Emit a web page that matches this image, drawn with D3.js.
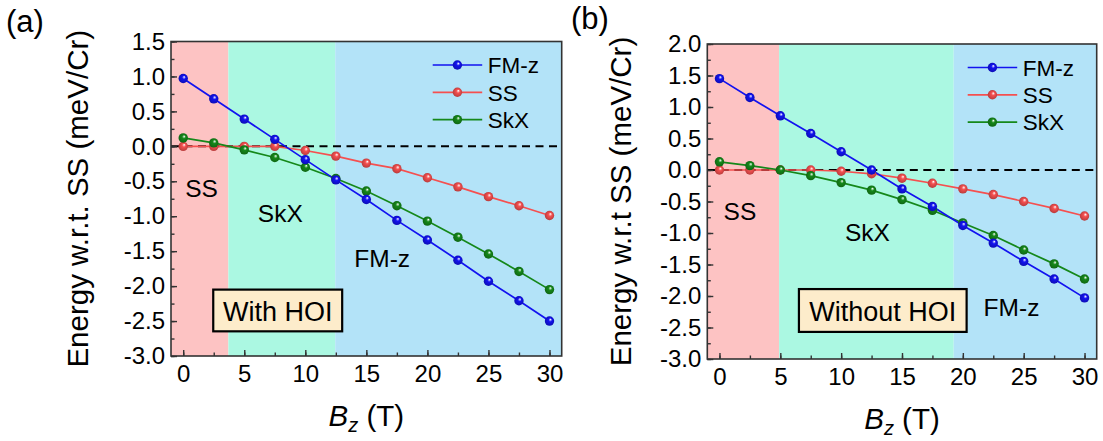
<!DOCTYPE html>
<html>
<head>
<meta charset="utf-8">
<title>Energy w.r.t. SS vs Bz</title>
<script src="https://cdn.jsdelivr.net/npm/d3@7"></script>
<style>
  body { margin: 0; background: #fff; }
  text { font-family: Arial, "Liberation Sans", sans-serif; fill: #000; }
</style>
</head>
<body>
<svg id="chart" width="1103" height="441"></svg>
<script>
// field values (T)
var bz = [0, 2.5, 5, 7.5, 10, 12.5, 15, 17.5, 20, 22.5, 25, 27.5, 30];
var seriesNames = ["FM-z", "SS", "SkX"];
var xTicks = [0, 5, 10, 15, 20, 25, 30];

// (a) with HOI
var fmzA = [0.97, 0.68, 0.39, 0.10, -0.19, -0.48, -0.76, -1.06, -1.34, -1.63, -1.93, -2.21, -2.50];
var ssA  = [0, 0, 0, 0, -0.06, -0.14, -0.24, -0.32, -0.45, -0.58, -0.72, -0.85, -0.99];
var skxA = [0.12, 0.05, -0.05, -0.16, -0.30, -0.46, -0.64, -0.85, -1.07, -1.30, -1.54, -1.79, -2.05];
var yTicksA = [-3.0, -2.5, -2.0, -1.5, -1.0, -0.5, 0.0, 0.5, 1.0, 1.5];
var phaseEdgesA = [3.7, 12.45];

// (b) without HOI
var fmzB = [1.45, 1.15, 0.86, 0.58, 0.29, 0.0, -0.30, -0.58, -0.88, -1.16, -1.45, -1.73, -2.03];
var ssB  = [0, 0, 0, 0, -0.02, -0.06, -0.13, -0.21, -0.30, -0.39, -0.50, -0.61, -0.73];
var skxB = [0.13, 0.07, 0, -0.09, -0.20, -0.32, -0.47, -0.64, -0.84, -1.04, -1.27, -1.49, -1.73];
var yTicksB = [-3.0, -2.5, -2.0, -1.5, -1.0, -0.5, 0.0, 0.5, 1.0, 1.5, 2.0];
var phaseEdgesB = [4.9, 19.25];

var phaseNames = ["SS", "SkX", "FM-z"];

// styling
var lineColors = ["#1212f0", "#f55050", "#15881a"];
var phaseFill = ["#fdc3c3", "#abf8e2", "#b3e3f8"];
var fmt = function(v) { return d3.format(".1f")(v).replace("\u2212", "-"); };

var svg = d3.select("#chart");
var defs = svg.append("defs");

lineColors.forEach(function(c, i) {
  var g = defs.append("radialGradient")
    .attr("id", "ball" + i)
    .attr("cx", "50%").attr("cy", "50%").attr("r", "55%")
    .attr("fx", "62%").attr("fy", "32%");
  g.append("stop").attr("offset", "0%").attr("stop-color", "#ffffff");
  g.append("stop").attr("offset", "35%").attr("stop-color", c);
  g.append("stop").attr("offset", "100%").attr("stop-color", d3.color(c).darker(0.9));
});

function drawPanel(cfg) {
  var x = d3.scaleLinear().domain([-1, 31]).range([cfg.left, cfg.right]);
  var y = d3.scaleLinear().domain(cfg.yDomain).range([cfg.bottom, cfg.top]);
  var g = svg.append("g");

  // phase backgrounds
  var edges = [-1].concat(cfg.edges).concat([31]);
  g.selectAll("rect.phase")
    .data(phaseFill)
    .enter().append("rect")
      .attr("class", "phase")
      .attr("x", function(d, i) { return x(edges[i]); })
      .attr("y", cfg.top)
      .attr("width", function(d, i) { return x(edges[i + 1]) - x(edges[i]); })
      .attr("height", cfg.bottom - cfg.top)
      .attr("fill", function(d) { return d; });

  // zero reference
  g.append("line")
    .attr("x1", cfg.left).attr("x2", cfg.right)
    .attr("y1", y(0)).attr("y2", y(0))
    .attr("stroke", "#000").attr("stroke-width", 2)
    .attr("stroke-dasharray", "8,5.5");

  // axes (ticks inward)
  var yMinor = d3.range(cfg.yDomain[0], cfg.yDomain[1] + 0.001, 0.25);
  var xMinor = d3.range(0, 30.1, 2.5);

  var ay = g.append("g").attr("transform", "translate(" + cfg.left + ",0)")
    .call(d3.axisLeft(y).tickValues(yMinor).tickSize(-3.5).tickFormat(""));
  ay.select(".domain").remove();
  var ay2 = g.append("g").attr("transform", "translate(" + cfg.left + ",0)")
    .call(d3.axisLeft(y).tickValues(cfg.yTicks).tickSize(-6).tickPadding(6).tickFormat(fmt));
  ay2.select(".domain").remove();

  var ax = g.append("g").attr("transform", "translate(0," + cfg.bottom + ")")
    .call(d3.axisBottom(x).tickValues(xMinor).tickSize(-3.5).tickFormat(""));
  ax.select(".domain").remove();
  var ax2 = g.append("g").attr("transform", "translate(0," + cfg.bottom + ")")
    .call(d3.axisBottom(x).tickValues(xTicks).tickSize(-6).tickPadding(9).tickFormat(d3.format("d")));
  ax2.select(".domain").remove();

  g.selectAll(".tick line").attr("stroke", "#333").attr("stroke-width", 1.4);
  g.selectAll(".tick text")
    .style("font-family", "Arial, 'Liberation Sans', sans-serif")
    .style("font-size", "24px").attr("fill", "#000");

  // frame
  g.append("rect")
    .attr("x", cfg.left).attr("y", cfg.top)
    .attr("width", cfg.right - cfg.left).attr("height", cfg.bottom - cfg.top)
    .attr("fill", "none").attr("stroke", "#333").attr("stroke-width", 1.6);

  // series
  var line = d3.line()
    .x(function(d, i) { return x(bz[i]); })
    .y(function(d) { return y(d); });

  var order = [1, 2, 0];
  order.forEach(function(k) {
    g.append("path")
      .attr("d", line(cfg.series[k]))
      .attr("fill", "none")
      .attr("stroke", lineColors[k])
      .attr("stroke-width", 1.7);
  });
  order.forEach(function(k) {
    g.selectAll(null)
      .data(cfg.series[k])
      .enter().append("circle")
        .attr("cx", function(d, i) { return x(bz[i]); })
        .attr("cy", function(d) { return y(d); })
        .attr("r", 4.7)
        .attr("fill", "url(#ball" + k + ")");
  });

  // legend
  var lg = g.append("g").attr("transform", "translate(" + (cfg.right - 129) + "," + (cfg.top + 23.5) + ")");
  seriesNames.forEach(function(name, i) {
    var row = lg.append("g").attr("transform", "translate(0," + (i * 27.3) + ")");
    row.append("line").attr("x1", 0).attr("x2", 49.5)
      .attr("stroke", lineColors[i]).attr("stroke-width", 1.7);
    row.append("circle").attr("cx", 24.7).attr("r", 4.7).attr("fill", "url(#ball" + i + ")");
    row.append("text").attr("x", 55).attr("y", 8.2)
      .style("font-size", "22.5px").text(name);
  });

  // phase labels
  cfg.labels.forEach(function(l) {
    g.append("text")
      .attr("x", x(l.bx)).attr("y", y(l.e))
      .attr("text-anchor", "middle")
      .style("font-size", "24.5px")
      .text(l.name);
  });

  // HOI box
  var b = cfg.box;
  g.append("rect")
    .attr("x", x(b.x0)).attr("y", y(b.e0))
    .attr("width", x(b.x1) - x(b.x0)).attr("height", y(b.e1) - y(b.e0))
    .attr("fill", "#fdeccb").attr("stroke", "#000").attr("stroke-width", 2.2);
  g.append("text")
    .attr("x", (x(b.x0) + x(b.x1)) / 2).attr("y", y(b.e1) - 10.6)
    .attr("text-anchor", "middle")
    .style("font-size", "27px")
    .text(b.text);

  // axis titles
  g.append("text")
    .attr("transform", "translate(" + (cfg.left - cfg.yTitleGap) + "," + ((cfg.top + cfg.bottom) / 2) + ") rotate(-90)")
    .attr("text-anchor", "middle")
    .style("font-size", "29.5px")
    .text(cfg.yTitle);

  var xt = g.append("text")
    .attr("x", (cfg.left + cfg.right) / 2)
    .attr("y", cfg.bottom + 70)
    .attr("text-anchor", "middle")
    .style("font-size", "29.5px");
  xt.append("tspan").style("font-style", "italic").text("B");
  xt.append("tspan").style("font-style", "italic").style("font-size", "20px").attr("dy", 6).text("z");
  xt.append("tspan").attr("dy", -6).text(" (T)");

  // panel tag
  svg.append("text")
    .attr("x", cfg.tagX).attr("y", cfg.tagY)
    .style("font-size", "31px")
    .text(cfg.tag);
}

drawPanel({
  left: 171, right: 561.7, top: 41.5, bottom: 356,
  yDomain: [-3, 1.5], yTicks: yTicksA, edges: phaseEdgesA,
  series: [fmzA, ssA, skxA],
  labels: [
    { name: phaseNames[0], bx: 1.5, e: -0.725 },
    { name: phaseNames[1], bx: 7.95, e: -1.087 },
    { name: phaseNames[2], bx: 16.3, e: -1.727 }
  ],
  box: { x0: 2.46, x1: 13.02, e0: -2.05, e1: -2.647, text: "With HOI" },
  yTitle: "Energy w.r.t. SS (meV/Cr)", yTitleGap: 83,
  tag: "(a)", tagX: 6, tagY: 32
});

drawPanel({
  left: 707.3, right: 1096.7, top: 44, bottom: 359,
  yDomain: [-3, 2], yTicks: yTicksB, edges: phaseEdgesB,
  series: [fmzB, ssB, skxB],
  labels: [
    { name: phaseNames[0], bx: 1.68, e: -0.79 },
    { name: phaseNames[1], bx: 12.16, e: -1.13 },
    { name: phaseNames[2], bx: 24.0, e: -2.32 }
  ],
  box: { x0: 6.53, x1: 20.31, e0: -1.89, e1: -2.57, text: "Without HOI" },
  yTitle: "Energy w.r.t SS (meV/Cr)", yTitleGap: 76,
  tag: "(b)", tagX: 571, tagY: 29
});
</script>
</body>
</html>
